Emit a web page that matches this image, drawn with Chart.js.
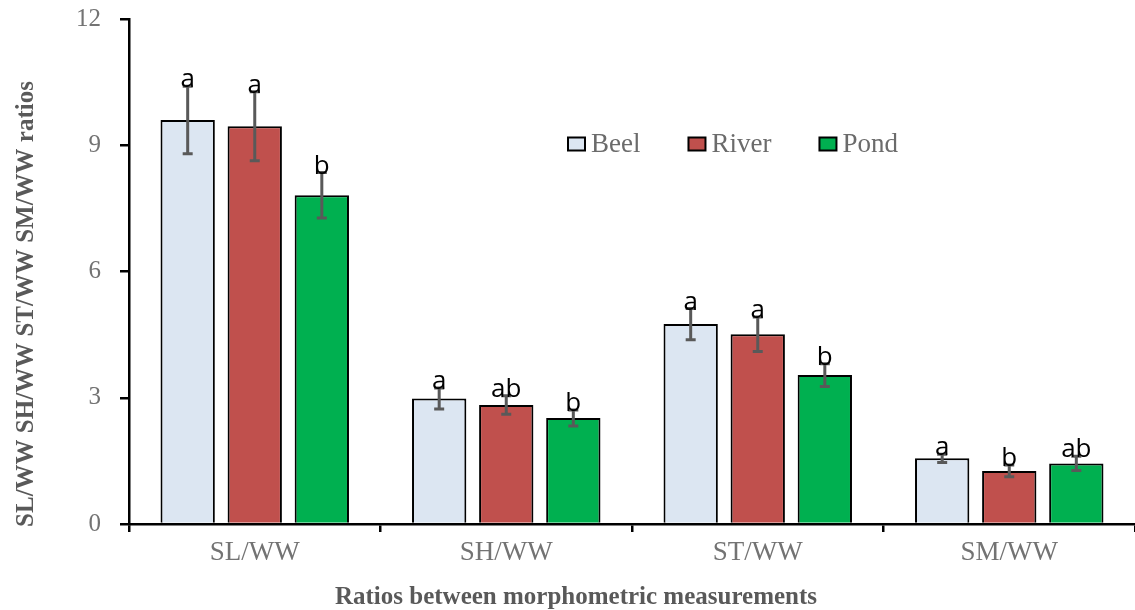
<!DOCTYPE html>
<html>
<head>
<meta charset="utf-8">
<script src="https://cdn.jsdelivr.net/npm/chart.js@4.4.1/dist/chart.umd.min.js"></script>
<style>
  html, body { margin: 0; padding: 0; background: #ffffff; }
  #wrap { width: 1135px; height: 610px; }
</style>
</head>
<body>
<div id="wrap"><canvas id="c" width="1135" height="610"></canvas></div>
<script>
// Morphometric ratios by habitat (mean ± error) with significance letters
const categories = ['SL/WW', 'SH/WW', 'ST/WW', 'SM/WW'];
const beel  = [9.60, 2.98, 4.75, 1.56];
const river = [9.45, 2.83, 4.51, 1.26];
const pond  = [7.81, 2.52, 3.54, 1.44];
const beelErr  = [0.80, 0.25, 0.37, 0.10];
const riverErr = [0.82, 0.22, 0.41, 0.14];
const pondErr  = [0.54, 0.19, 0.27, 0.17];
const beelLetters  = ['a', 'a', 'a', 'a'];
const riverLetters = ['a', 'ab', 'a', 'b'];
const pondLetters  = ['b', 'b', 'b', 'ab'];
const yTicks = [0, 3, 6, 9, 12];

const SERIF = '"Liberation Serif", "Times New Roman", serif';
const AXIS_W = 2.5;

// Error bars, letters, legend and axis titles
const overlay = {
  id: 'overlay',
  afterDatasetsDraw(chart) {
    const ctx = chart.ctx;
    const y = chart.scales.y;
    const area = chart.chartArea;
    ctx.save();
    chart.data.datasets.forEach((ds, di) => {
      const meta = chart.getDatasetMeta(di);
      meta.data.forEach((bar, i) => {
        const v = ds.data[i], e = ds.errors[i];
        const yt = y.getPixelForValue(v + e);
        const yb = y.getPixelForValue(v - e);
        ctx.strokeStyle = '#595959';
        ctx.lineWidth = 3;
        ctx.beginPath();
        ctx.moveTo(bar.x, yt); ctx.lineTo(bar.x, yb);
        ctx.moveTo(bar.x - 5, yt); ctx.lineTo(bar.x + 5, yt);
        ctx.moveTo(bar.x - 5, yb); ctx.lineTo(bar.x + 5, yb);
        ctx.stroke();
        ctx.fillStyle = '#000000';
        ctx.font = '26px "Open Sans", sans-serif';
        ctx.textAlign = 'center';
        ctx.textBaseline = 'alphabetic';
        ctx.fillText(ds.letters[i], bar.x, yt + 1);
      });
    });

    // legend inside the plot
    ctx.font = '27px ' + SERIF;
    ctx.textBaseline = 'middle';
    ctx.textAlign = 'left';
    let lx = area.left + 439;
    const ly = area.top + 125;
    chart.data.datasets.forEach(ds => {
      ctx.fillStyle = ds.backgroundColor;
      ctx.fillRect(lx, ly - 6.5, 17, 13);
      ctx.strokeStyle = '#000000';
      ctx.lineWidth = 2;
      ctx.strokeRect(lx, ly - 6.5, 17, 13);
      ctx.fillStyle = '#6b6b6b';
      ctx.fillText(ds.label, lx + 23, ly + 1);
      lx += 23 + ctx.measureText(ds.label).width + 48;
    });

    // axis titles
    ctx.fillStyle = '#595959';
    ctx.font = 'bold 25px ' + SERIF;
    ctx.textAlign = 'center';
    ctx.textBaseline = 'alphabetic';
    ctx.fillText('Ratios between morphometric measurements', area.left + 447, 604);
    ctx.translate(33, 304);
    ctx.rotate(-Math.PI / 2);
    ctx.fillText('SL/WW SH/WW ST/WW SM/WW ratios', 0, 0);
    ctx.restore();
  }
};

new Chart(document.getElementById('c'), {
  type: 'bar',
  data: {
    labels: categories,
    datasets: [
      { label: 'Beel',  data: beel,  errors: beelErr,  letters: beelLetters,  backgroundColor: '#DCE6F2' },
      { label: 'River', data: river, errors: riverErr, letters: riverLetters, backgroundColor: '#C0504D' },
      { label: 'Pond',  data: pond,  errors: pondErr,  letters: pondLetters,  backgroundColor: '#00B050' }
    ].map(d => Object.assign(d, { borderColor: '#000000', borderWidth: 2, categoryPercentage: 0.8, barPercentage: 0.81 }))
  },
  options: {
    responsive: false,
    animation: false,
    devicePixelRatio: 1,
    layout: { padding: { top: 19, right: 0, bottom: 0, left: 0 } },
    plugins: { legend: { display: false }, tooltip: { enabled: false } },
    scales: {
      x: {
        afterFit: s => { s.height = 86; s.paddingLeft = 0; s.paddingRight = 0; },
        border: { color: '#000000', width: AXIS_W },
        grid: { drawOnChartArea: false, color: '#000000', lineWidth: AXIS_W, tickLength: 8, offset: true },
        ticks: { color: '#737373', font: { family: SERIF, size: 27 }, padding: 5 }
      },
      y: {
        min: 0, max: 12,
        afterFit: s => { s.width = 129; s.paddingTop = 0; s.paddingBottom = 0; },
        afterBuildTicks: s => { s.ticks = yTicks.map(v => ({ value: v })); },
        border: { color: '#000000', width: AXIS_W },
        grid: { drawOnChartArea: false, color: '#000000', lineWidth: AXIS_W, tickLength: 9 },
        ticks: { color: '#737373', font: { family: SERIF, size: 25 }, padding: 19 }
      }
    }
  },
  plugins: [overlay]
});
</script>
</body>
</html>
